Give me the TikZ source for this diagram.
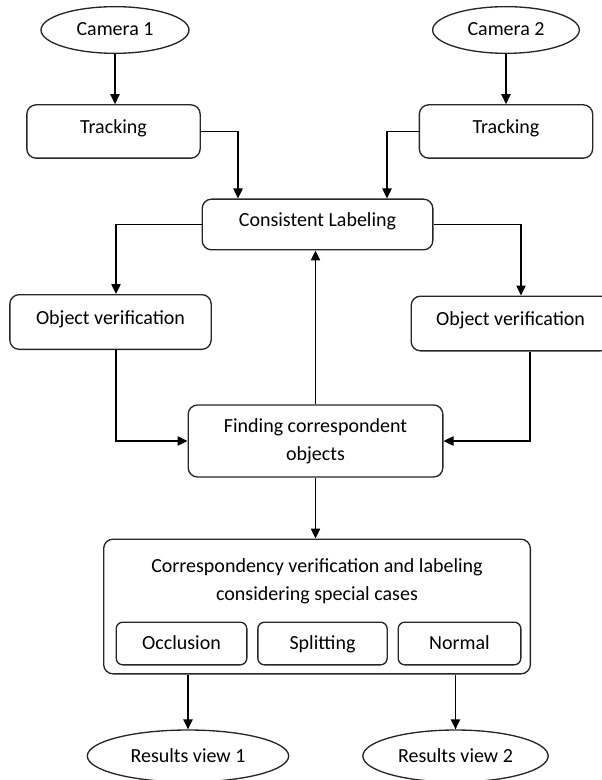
\documentclass[tikz,border=0pt]{standalone}
\usepackage{fontspec}
\setmainfont{Carlito}
\usetikzlibrary{shapes.geometric}
\usetikzlibrary{arrows.meta}

\begin{document}
\begin{tikzpicture}[
    x=0.75pt, y=-0.75pt,
    font=\fontsize{15}{21}\selectfont,
    box/.style = {draw=black!85, rounded corners=7pt, line width=1pt,
                inner sep=0pt, minimum width=#1},
    oval/.style = {draw=black!85, ellipse, line width=1pt, inner sep=0pt,
                minimum width=#1, minimum height=35pt, even},
    even/.style = {text height=11pt, text depth=2pt},
    lift/.style = {text height=10pt, text depth=7pt},
    arr/.style = {-{Triangle[length=7.5pt,width=7pt]}, line width=1pt}
                    ]
        \useasboundingbox (0,0) rectangle (601,780);
        % cameras and tracking
        \node[oval=111pt] at (115,30) (cam1) {Camera 1};
        \node[oval=110pt] at (506,30) (cam2) {Camera 2};
        \node[box=130pt, minimum height=40pt, lift] at (113.5,131.5) (track1) {Tracking};
        \node[box=130pt, minimum height=40pt, lift] at (506,131.5) (track2) {Tracking};
        \node[box=173pt, minimum height=38pt, lift] at (317.5,224.5) (label) {Consistent Labeling};
        \node[box=151pt, minimum height=41pt, lift] at (110.5,322) (ver1) {Object verification};
        \node[box=149pt, minimum height=41pt, lift] at (510.5,323.5) (ver2) {Object verification};
        \node[box=191pt, minimum height=54pt, align=center] at (315.5,441) (find)
            {Finding correspondent\\objects};
        % correspondency block
        \node[box=320pt, minimum height=101pt] at (317,606.5) (corr) {};
        \node[align=center] at (317,581.5) (corrtext)
            {Correspondency verification and labeling\\considering special cases};
        \foreach \x/\w/\v/\t in {181.5/98/occ/Occlusion, 322.5/97/split/Splitting, 459.5/92/normal/Normal}
            \node[box=\w pt, minimum height=32pt, rounded corners=5pt, even] at (\x,643.5) (\v) {\t};
        \node[oval=151pt, minimum height=39pt] at (188,756) (res1) {Results view 1};
        \node[oval=139pt, minimum height=39pt] at (455.5,756) (res2) {Results view 2};
        % bend points
        \coordinate (t1) at (238,0);
        \coordinate (t2) at (387,0);
        \coordinate (v1) at (116,0);
        \coordinate (v2) at (521,0);
        \coordinate (v3) at (530,0);
        \draw [arr] (cam1.south) -- (cam1.south |- track1.north);
        \draw [arr] (cam2.south) -- (cam2.south |- track2.north);
        \draw [arr] (track1.east) -| (t1 |- label.north);
        \draw [arr] (track2.west) -| (t2 |- label.north);
        \draw [arr] (label.west) -| (v1 |- ver1.north);
        \draw [arr] (label.east) -| (v2 |- ver2.north);
        \draw [arr] (v1 |- ver1.south) |- (find.west);
        \draw [arr] (v3 |- ver2.south) |- (find.east);
        \draw [arr] (find.north) -- (find.north |- label.south);
        \draw [arr] (find.south) -- (find.south |- corr.north);
        \draw [arr] (res1.north |- corr.south) -- (res1.north);
        \draw [arr] (res2.north |- corr.south) -- (res2.north);
    \end{tikzpicture}
\end{document}
